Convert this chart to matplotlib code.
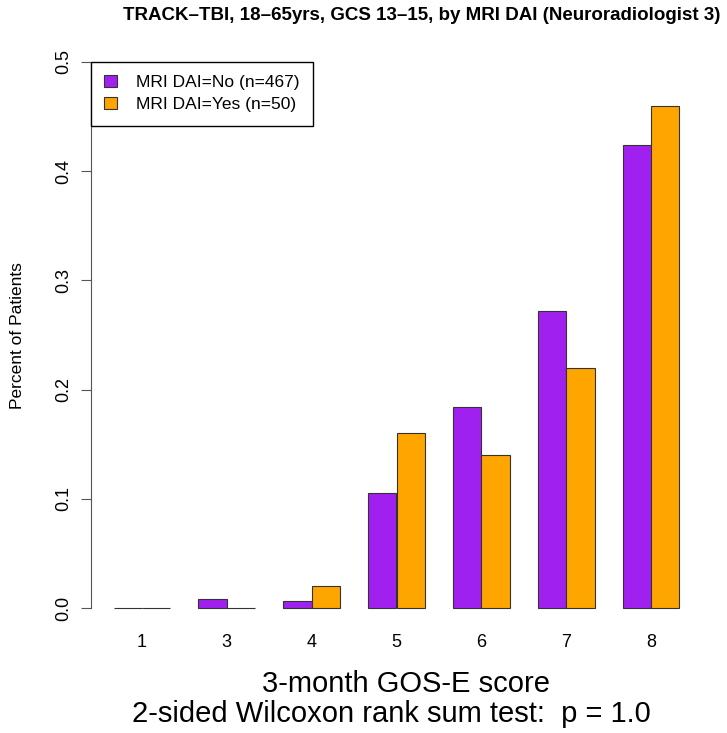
import numpy as np
import matplotlib.pyplot as plt

plt.rcParams['font.family'] = ['Liberation Sans', 'DejaVu Sans']

# GOS-E outcome proportions by MRI DAI status
scores = ['1', '3', '4', '5', '6', '7', '8']
dai_no = [0.0, 0.0086, 0.0064, 0.105, 0.184, 0.272, 0.424]
dai_yes = [0.0, 0.0, 0.02, 0.16, 0.14, 0.22, 0.46]
labels = ['MRI DAI=No (n=467)', 'MRI DAI=Yes (n=50)']
colors = ['#A020F0', '#FFA500']

W, H = 727, 733
fig = plt.figure(figsize=(W / 100, H / 100), dpi=100)
ax = fig.add_axes([91 / W, 1 - 630 / H, 611 / W, 590 / H])

# side-by-side bars, unit width, one unit gap between groups (R barplot style)
left = 1 + 3 * np.arange(len(scores))
ax.bar(left + 0.5, dai_no, width=1, color=colors[0], edgecolor='#333333',
       linewidth=0.8, label=labels[0])
ax.bar(left + 1.5, dai_yes, width=1, color=colors[1], edgecolor='#333333',
       linewidth=0.8, label=labels[1])

ax.set_xlim(0.2, 21.8)
ax.set_ylim(-0.02, 0.52)
for s in ['top', 'right', 'bottom']:
    ax.spines[s].set_visible(False)
ax.spines['left'].set_bounds(0, 0.5)
ax.spines['left'].set_color('#555555')

ax.set_xticks(left + 1)
ax.set_xticklabels(scores, fontsize=13)
ax.tick_params(axis='x', length=0, pad=3)
ax.set_yticks(np.arange(0, 0.51, 0.1))
ax.set_yticklabels(['%.1f' % v for v in np.arange(0, 0.51, 0.1)],
                   rotation=90, va='center', fontsize=13)
ax.tick_params(axis='y', length=7.2, color='#555555', pad=6)

ax.legend(loc='upper left', bbox_to_anchor=(0.2, 0.5),
          bbox_transform=ax.transData, borderaxespad=0, fancybox=False,
          edgecolor='black', framealpha=1, fontsize=12.5,
          handlelength=0.7, handleheight=0.7, borderpad=0.77,
          labelspacing=0.4, handletextpad=1.15)

fig.text(422 / W, 1 - 16 / H,
         'TRACK\u2013TBI, 18\u201365yrs, GCS 13\u201315, by MRI DAI (Neuroradiologist 3)',
         ha='center', va='center', fontsize=13.5, fontweight='bold')
fig.text(18 / W, 1 - 336 / H, 'Percent of Patients', rotation=90,
         ha='center', va='center', fontsize=12.5)
fig.text(406 / W, 1 - 684 / H, '3-month GOS-E score',
         ha='center', va='center', fontsize=21)
fig.text(391 / W, 1 - 714 / H, '2-sided Wilcoxon rank sum test:  p = 1.0',
         ha='center', va='center', fontsize=21)

fig.savefig('out.png', dpi=100, facecolor='white')
